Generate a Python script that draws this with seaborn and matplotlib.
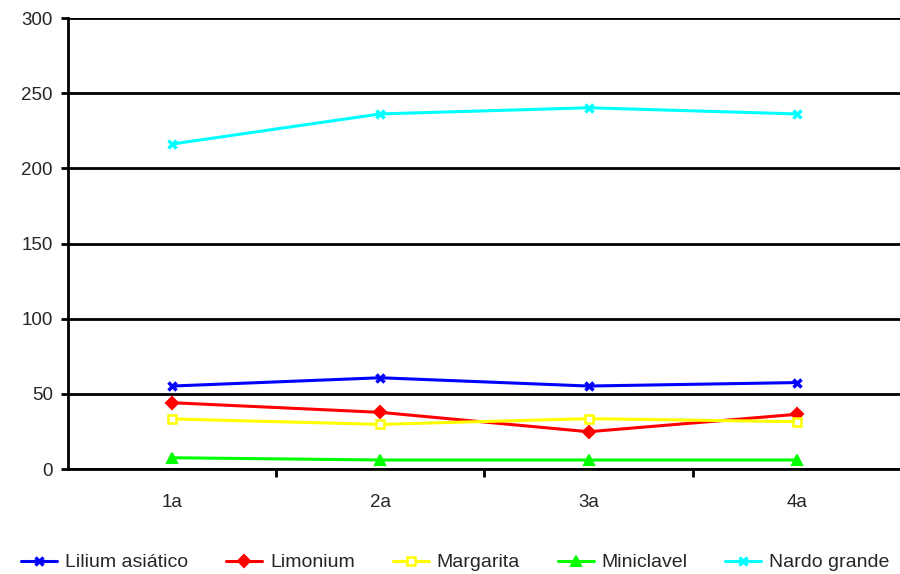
import numpy as np
import pandas as pd
import matplotlib.pyplot as plt
import seaborn as sns

# Data
periods = ['1a', '2a', '3a', '4a']
lilium = [55.2, 60.7, 55.2, 57.5]
limonium = [44.1, 37.7, 24.8, 36.4]
margarita = [33.3, 29.7, 33.5, 31.5]
miniclavel = [7.5, 6, 6, 6]
nardo = [216.2, 236.2, 240.3, 236.2]

series = {
    'Lilium asiático': lilium,
    'Limonium': limonium,
    'Margarita': margarita,
    'Miniclavel': miniclavel,
    'Nardo grande': nardo,
}

# Styles per series
styles = {
    'Lilium asiático': dict(color='#0000ff', marker='x', mfc='#0000ff', ms=6, mew=2.5),
    'Limonium': dict(color='#ff0000', marker='D', mfc='#ff0000', ms=6, mew=1.5),
    'Margarita': dict(color='#ffff00', marker='s', mfc='white', ms=6, mew=1.8),
    'Miniclavel': dict(color='#00ff00', marker='^', mfc='#00ff00', ms=7, mew=1.5),
    'Nardo grande': dict(color='#00ffff', marker='x', mfc='#00ffff', ms=6, mew=2.5),
}

df = pd.DataFrame(
    [(name, p, v) for name, vals in series.items() for p, v in zip(periods, vals)],
    columns=['serie', 'periodo', 'valor']
)

sns.set_style('white')
plt.rcParams['font.family'] = ['Liberation Sans', 'DejaVu Sans']

fig = plt.figure(figsize=(9, 5.74), dpi=100)
ax = fig.add_axes([0.0756, 0.1829, 0.93, 0.7857])

for name in series:
    st = styles[name]
    sub = df[df['serie'] == name]
    sns.lineplot(
        data=sub, x='periodo', y='valor', ax=ax,
        color=st['color'], marker=st['marker'],
        markerfacecolor=st['mfc'], markeredgecolor=st['color'],
        markersize=st['ms'], markeredgewidth=st['mew'],
        linewidth=2.2, label=name, sort=False
    )

ax.set_xlim(-0.5, 3.52)
ax.set_ylim(0, 300)
ax.set_yticks(np.arange(0, 301, 50))
ax.set_xlabel('')
ax.set_ylabel('')

# Gridlines and spines
ax.grid(axis='y', color='black', linewidth=2)
ax.set_axisbelow(True)
for side in ['top', 'right']:
    ax.spines[side].set_visible(False)
for side in ['left', 'bottom']:
    ax.spines[side].set_color('black')
    ax.spines[side].set_linewidth(2)

# Ticks: x ticks at category boundaries
ax.set_xticks([0.5, 1.5, 2.5], minor=True)
ax.tick_params(axis='x', which='major', bottom=True, length=0, pad=18, labelsize=13.5)
ax.tick_params(axis='x', which='minor', bottom=True, length=6, width=2,
               color='black', direction='out')
ax.tick_params(axis='y', which='major', left=True, length=5, width=2, color='black',
               direction='out', pad=6, labelsize=13.5)

ax.legend_.remove()
handles, labels = ax.get_legend_handles_labels()
fig.legend(handles, labels, loc='lower center', ncol=5, frameon=False,
           bbox_to_anchor=(0.506, -0.026), fontsize=14, handlelength=1.85,
           columnspacing=1.95, handletextpad=0.4)

fig.savefig('out.png', dpi=100)
